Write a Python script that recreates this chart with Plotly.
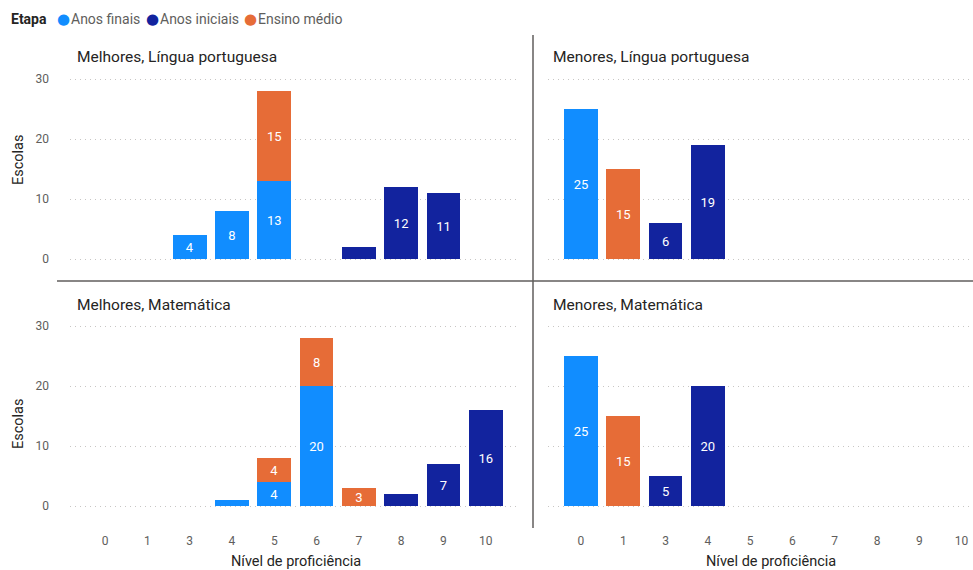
import plotly.graph_objects as go

# ---- data ----
levels = ["0", "1", "3", "4", "5", "6", "7", "8", "9", "10"]
series_names = ["Anos finais", "Anos iniciais", "Ensino médio"]
series_colors = ["#118DFF", "#12239E", "#E66C37"]

melhores_lp_finais    = [None, None, 4, 8, 13, None, None, None, None, None]
melhores_lp_iniciais  = [None, None, None, None, None, None, 2, 12, 11, None]
melhores_lp_medio     = [None, None, None, None, 15, None, None, None, None, None]

menores_lp_finais     = [25, None, None, None, None, None, None, None, None, None]
menores_lp_iniciais   = [None, None, 6, 19, None, None, None, None, None, None]
menores_lp_medio      = [None, 15, None, None, None, None, None, None, None, None]

melhores_mat_finais   = [None, None, None, 1, 4, 20, None, None, None, None]
melhores_mat_iniciais = [None, None, None, None, None, None, None, 2, 7, 16]
melhores_mat_medio    = [None, None, None, None, 4, 8, 3, None, None, None]

menores_mat_finais    = [25, None, None, None, None, None, None, None, None, None]
menores_mat_iniciais  = [None, None, 5, 20, None, None, None, None, None, None]
menores_mat_medio     = [None, 15, None, None, None, None, None, None, None, None]

panel_titles = ["Melhores, Língua portuguesa", "Menores, Língua portuguesa",
                "Melhores, Matemática", "Menores, Matemática"]
y_ticks = [0, 10, 20, 30]

panels = [
    (melhores_lp_finais, melhores_lp_iniciais, melhores_lp_medio),
    (menores_lp_finais, menores_lp_iniciais, menores_lp_medio),
    (melhores_mat_finais, melhores_mat_iniciais, melhores_mat_medio),
    (menores_mat_finais, menores_mat_iniciais, menores_mat_medio),
]

# ---- layout geometry (pixels of the 973x570 window) ----
W, H = 973, 570
FONT = "Roboto"
TXT = "#252423"
TICK = "#605E5C"

def px_x(p):
    return p / W

def px_y(p):
    return 1 - p / H

x_domains = [[px_x(70), px_x(520)], [px_x(548), 1.0]]
x_ranges = [[-0.83, 9.81], [-0.78, 9.27]]
y_domains = [[px_y(268), px_y(70)], [px_y(515), px_y(317)]]
y_range = [-1.5, 31.5]

fig = go.Figure()

for i, data in enumerate(panels):
    xa = "x" if i == 0 else f"x{i+1}"
    ya = "y" if i == 0 else f"y{i+1}"
    for name, color, vals in zip(series_names, series_colors, data):
        labels = ["" if (v is None or v < 3) else str(v) for v in vals]
        fig.add_trace(go.Bar(
            x=levels, y=vals, name=name, marker_color=color,
            marker_line_width=0,
            text=labels, textposition="inside", insidetextanchor="middle",
            textangle=0,
            textfont=dict(color="white", size=13, family=FONT),
            xaxis=xa, yaxis=ya, showlegend=False, hoverinfo="x+y+name",
        ))

layout_axes = {}
for i in range(4):
    row, col = divmod(i, 2)
    xk = "xaxis" if i == 0 else f"xaxis{i+1}"
    yk = "yaxis" if i == 0 else f"yaxis{i+1}"
    ya = "y" if i == 0 else f"y{i+1}"
    xa = "x" if i == 0 else f"x{i+1}"
    layout_axes[xk] = dict(
        domain=x_domains[col], anchor=ya, type="category",
        categoryorder="array", categoryarray=levels, range=x_ranges[col],
        showgrid=False, zeroline=False, showline=False,
        showticklabels=(row == 1), ticks="",
        tickfont=dict(size=12, color=TICK, family=FONT),
        ticklabelstandoff=17,
    )
    layout_axes[yk] = dict(
        domain=y_domains[row], anchor=xa, range=y_range,
        tickvals=y_ticks, showgrid=True, gridcolor="#C8C6C4",
        griddash="1px,4px", gridwidth=1, zeroline=False, showline=False,
        showticklabels=(col == 0), ticks="",
        tickfont=dict(size=12, color=TICK, family=FONT),
        ticklabelstandoff=20,
    )

annotations = []
title_pos = [(75, 57), (551, 57), (75, 305), (551, 305)]
for t, (x, y) in zip(panel_titles, title_pos):
    annotations.append(dict(text=t, x=px_x(x), y=px_y(y), xref="paper", yref="paper",
                            xanchor="left", yanchor="middle", showarrow=False,
                            font=dict(size=15.5, color=TXT, family=FONT)))
for yc in (160, 424):
    annotations.append(dict(text="Escolas", x=px_x(18), y=px_y(yc), xref="paper", yref="paper",
                            xanchor="center", yanchor="middle", textangle=-90, showarrow=False,
                            font=dict(size=14.5, color=TXT, family=FONT)))
for xc in (296, 771):
    annotations.append(dict(text="Nível de proficiência", x=px_x(xc), y=px_y(561), xref="paper",
                            yref="paper", xanchor="center", yanchor="middle", showarrow=False,
                            font=dict(size=14.5, color=TXT, family=FONT)))

# legend line: "Etapa" + round markers with series names
LEG_Y = 19
annotations.append(dict(text="<b>Etapa</b>", x=px_x(9), y=px_y(LEG_Y), xref="paper", yref="paper",
                        xanchor="left", yanchor="middle", showarrow=False,
                        font=dict(size=14, color=TXT, family=FONT)))
legend_x = [(63, 69), (152, 158), (250, 256)]
for name, color, (cx, tx) in zip(series_names, series_colors, legend_x):
    annotations.append(dict(text="●", x=px_x(cx), y=px_y(LEG_Y), xref="paper", yref="paper",
                            xanchor="center", yanchor="middle", showarrow=False,
                            font=dict(size=15, color=color, family="DejaVu Sans")))
    annotations.append(dict(text=name, x=px_x(tx), y=px_y(LEG_Y), xref="paper", yref="paper",
                            xanchor="left", yanchor="middle", showarrow=False,
                            font=dict(size=14, color=TICK, family=FONT)))

shapes = [
    dict(type="line", xref="paper", yref="paper", x0=px_x(57), x1=1.0,
         y0=px_y(281), y1=px_y(281), line=dict(color="#605E5C", width=1.5)),
    dict(type="line", xref="paper", yref="paper", x0=px_x(533), x1=px_x(533),
         y0=px_y(35), y1=px_y(528), line=dict(color="#605E5C", width=1.5)),
]

fig.update_layout(
    width=W, height=H,
    margin=dict(l=0, r=0, t=0, b=0),
    paper_bgcolor="white", plot_bgcolor="white",
    barmode="stack", bargap=0.2,
    font=dict(family=FONT, color=TXT),
    uniformtext=dict(minsize=13, mode="show"),
    showlegend=False,
    annotations=annotations, shapes=shapes,
    **layout_axes,
)

fig.write_html(
    "out.html",
    config={"displayModeBar": False},
    post_script="document.body.style.margin='0px';document.body.style.overflow='hidden';",
)
